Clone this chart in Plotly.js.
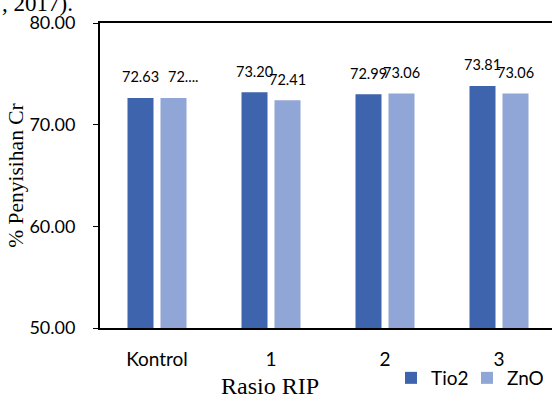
<!DOCTYPE html>
<html>
<head>
<meta charset="utf-8">
<script src="https://cdn.plot.ly/plotly-3.0.1.min.js"></script>
<style>
html,body{margin:0;padding:0;overflow:hidden;background:#fff;width:552px;height:397px;}
#chart{width:560px;height:397px;}
</style>
</head>
<body>
<div id="chart"></div>
<script>
const categories = ["Kontrol", "1", "2", "3"];
const seriesNames = ["Tio2", "ZnO"];
const tio2Values = [72.63, 73.20, 72.99, 73.81];
const znoValues = [72.63, 72.41, 73.06, 73.06];
const tio2Labels = ["72.63", "73.20", "72.99", "73.81"];
const znoLabels = ["72....", "72.41", "73.06", "73.06"];
const yTickValues = [50, 60, 70, 80];
const yTickLabels = ["50.00", "60.00", "70.00", "80.00"];

const colTio2 = "#3D64AD";
const colZnO = "#8FA6D6";
const sans = "Lato, 'Open Sans', sans-serif";
const serif = "'Liberation Serif', 'DejaVu Serif', serif";

const traces = [
  {type: "bar", name: seriesNames[0], x: categories, y: tio2Values,
   marker: {color: colTio2}, hoverinfo: "none"},
  {type: "bar", name: seriesNames[1], x: categories, y: znoValues,
   marker: {color: colZnO}, hoverinfo: "none"}
];

const annotations = [];
categories.forEach((c, i) => {
  annotations.push({x: c, y: tio2Values[i], xref: "x", yref: "y", text: tio2Labels[i],
    showarrow: false, xshift: -16.5, yshift: 21, yanchor: "middle",
    font: {family: sans, size: 14.5, color: "#000"}});
  annotations.push({x: c, y: znoValues[i], xref: "x", yref: "y", text: znoLabels[i],
    showarrow: false, xshift: i === 0 ? 26 : 16.5, yshift: 21, yanchor: "middle",
    font: {family: sans, size: 14.5, color: "#000"}});
});
annotations.push({xref: "paper", yref: "paper", x: (270 - 100) / 456, y: -0.19,
  text: "Rasio RIP", showarrow: false, xanchor: "center", yanchor: "middle",
  font: {family: serif, size: 24, color: "#000"}});
annotations.push({xref: "paper", yref: "paper", x: -100 / 456, y: 1.015,
  text: ", 2017).", showarrow: false, xanchor: "left", yanchor: "bottom",
  font: {family: serif, size: 23, color: "#000"}});

const layout = {
  width: 560, height: 397,
  margin: {l: 100, r: 4, t: 23, b: 69, pad: 0, autoexpand: false},
  paper_bgcolor: "#fff", plot_bgcolor: "#fff",
  barmode: "group", bargap: 0.421, bargroupgap: 0.212,
  showlegend: true,
  legend: {orientation: "h", xref: "container", yref: "container",
    x: 391 / 560, xanchor: "left", y: 1 - 378 / 397, yanchor: "middle",
    font: {family: sans, size: 19, color: "#000"}, entrywidth: 31, entrywidthmode: "pixels",
    bgcolor: "rgba(0,0,0,0)"},
  xaxis: {type: "category", range: [-0.5, 3.5], showline: true, linecolor: "#000", linewidth: 2,
    mirror: true, ticks: "", showgrid: false, zeroline: false, ticklabelstandoff: 13,
    tickfont: {family: sans, size: 19, color: "#000"}, fixedrange: true, automargin: false},
  yaxis: {range: [50, 80], showline: true, linecolor: "#000", linewidth: 2,
    ticks: "outside", ticklen: 5, tickwidth: 1, tickcolor: "#000",
    tickvals: yTickValues, ticktext: yTickLabels, showgrid: false, zeroline: false,
    ticklabelstandoff: 14, tickfont: {family: sans, size: 18, color: "#000"},
    title: {text: "% Penyisihan Cr", font: {family: serif, size: 21.5, color: "#000"}, standoff: 0},
    fixedrange: true, automargin: false},
  annotations: annotations
};

Plotly.newPlot("chart", traces, layout, {staticPlot: true, displayModeBar: false});
</script>
</body>
</html>
